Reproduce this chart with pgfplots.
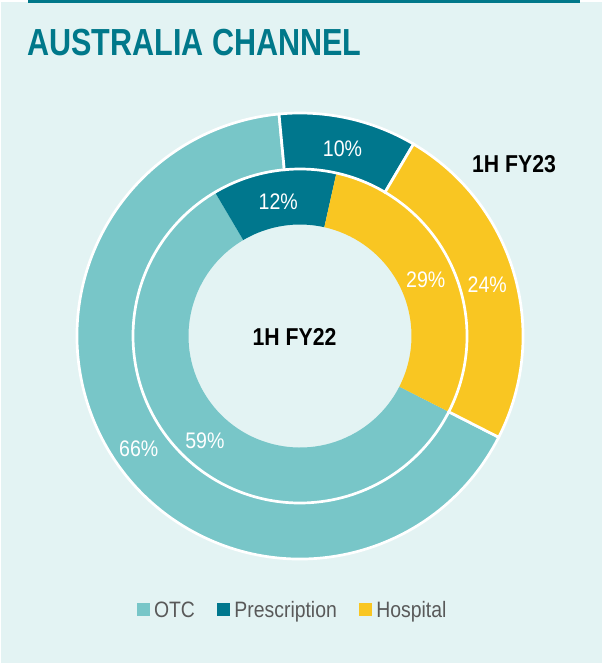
\documentclass[border=0pt]{standalone}
\usepackage{pgfplots}
\pgfplotsset{compat=1.18}
\usepackage{pgfplotstable}
\usepackage{fontspec}
\setmainfont{Liberation Sans}
\newfontfamily\nar[FakeStretch=0.87]{Liberation Sans}
\newfontfamily\titlefont[FakeStretch=0.81]{Liberation Sans}
\definecolor{otc}{HTML}{78C6C8}
\definecolor{presc}{HTML}{00778D}
\definecolor{hosp}{HTML}{F9C622}
\definecolor{bg}{HTML}{E3F3F3}
\definecolor{teal}{HTML}{00788A}
\definecolor{legtext}{HTML}{595959}

\pgfplotstableread{
channel fy22 fy23
OTC 59 66
Prescription 12 10
Hospital 29 24
}\channeldata

% #1 column, #2 inner radius, #3 outer radius, #4 style, #5 label radius
\newcommand\drawring[5]{%
  \xdef\startang{-27}%
  \foreach \i/\col in {0/otc,1/presc,2/hosp}{%
    \pgfplotstablegetelem{\i}{#1}\of\channeldata
    \let\val\pgfplotsretval
    \pgfmathsetmacro\sweep{3.6*\val}%
    \pgfmathsetmacro\endang{\startang-\sweep}%
    \pgfmathsetmacro\midang{\startang-\sweep/2}%
    \begin{scope}[shift={(axis cs:300,336)}]
      \path[fill=\col,#4] (\startang:#3pt) arc[start angle=\startang, end angle=\endang, radius=#3pt]
        -- (\endang:#2pt) arc[start angle=\endang, end angle=\startang, radius=#2pt] -- cycle;
      \node[text=white, inner sep=0pt, yshift=-3pt, font=\nar\fontsize{22.5}{24}\selectfont] at (\midang:#5pt) {\val\%};
    \end{scope}
    \xdef\startang{\endang}%
  }%
}

\begin{document}
\begin{tikzpicture}
\begin{axis}[
  width=602pt, height=663pt, scale only axis,
  xmin=0, xmax=602, ymin=0, ymax=663, y dir=reverse,
  hide axis, clip=false,
  legend columns=3,
  legend image code/.code={\fill[#1] (0pt,-6.5pt) rectangle (13pt,6.5pt);},
  legend style={at={(axis cs:137,609.5)}, anchor=west, draw=none, fill=none,
    inner sep=0pt, outer sep=0pt, text=legtext,
    font=\nar\fontsize{22.3}{26}\selectfont,
    cells={anchor=west},
    nodes={inner sep=0pt, text height=16.4pt, text depth=0pt},
    /tikz/every odd column/.append style={column sep=4pt},
    /tikz/every even column/.append style={column sep=22.5pt}},
]
\fill[white] (axis cs:0,0) rectangle (axis cs:602,663);
\fill[bg] (axis cs:1,2) rectangle (axis cs:602,663);
\fill[teal] (axis cs:28,0) rectangle (axis cs:580,3.5);
\node[anchor=base west, inner sep=0pt, text=teal, font=\titlefont\bfseries\fontsize{37.7}{40}\selectfont] at (axis cs:27,56) {AUSTRALIA CHANNEL};

\pgfplotsextra{\drawring{fy22}{111.5}{167}{draw=none}{139}}
\pgfplotsextra{\drawring{fy23}{167}{223}{draw=white,line width=2.7pt}{195}}

\node[anchor=base, inner sep=0pt, font=\nar\bfseries\fontsize{24.4}{26}\selectfont] at (axis cs:294.5,345) {1H FY22};
\node[anchor=base, inner sep=0pt, font=\nar\bfseries\fontsize{24.4}{26}\selectfont] at (axis cs:514,172) {1H FY23};

\addlegendimage{fill=otc, draw=none}
\addlegendimage{fill=presc, draw=none}
\addlegendimage{fill=hosp, draw=none}
\legend{OTC,Prescription,Hospital}
\end{axis}
\end{tikzpicture}
\end{document}
